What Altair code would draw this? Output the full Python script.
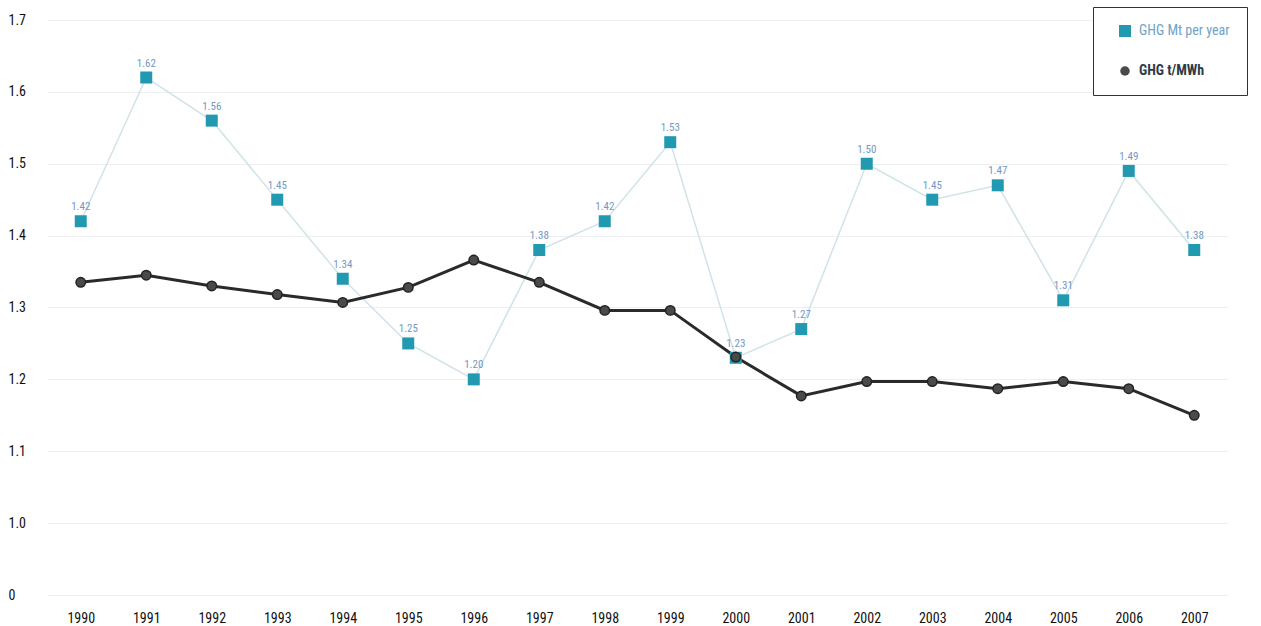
import altair as alt
import pandas as pd

# Annual greenhouse-gas figures, 1990-2007
years = [1990, 1991, 1992, 1993, 1994, 1995, 1996, 1997, 1998,
         1999, 2000, 2001, 2002, 2003, 2004, 2005, 2006, 2007]
mt_per_year = [1.42, 1.62, 1.56, 1.45, 1.34, 1.25, 1.20, 1.38, 1.42,
               1.53, 1.23, 1.27, 1.50, 1.45, 1.47, 1.31, 1.49, 1.38]
t_per_mwh = [1.335, 1.345, 1.330, 1.318, 1.307, 1.328, 1.366, 1.335, 1.296,
             1.296, 1.231, 1.177, 1.197, 1.197, 1.187, 1.197, 1.187, 1.150]

series_names = ["GHG Mt per year", "GHG t/MWh"]
y_ticks = [0.9, 1.0, 1.1, 1.2, 1.3, 1.4, 1.5, 1.6, 1.7]

FONT = "Roboto Condensed, DejaVu Sans Condensed, Liberation Sans Narrow, Liberation Sans, sans-serif"
TEAL = "#2199b0"
DARK = "#4a4a4a"

mt = pd.DataFrame({"year": years, "value": mt_per_year, "series": series_names[0]})
mt["label"] = [f"{v:.2f}" for v in mt_per_year]
mwh = pd.DataFrame({"year": years, "value": t_per_mwh, "series": series_names[1]})
both = pd.concat([mt, mwh], ignore_index=True)

x_enc = alt.X(
    "year:O",
    scale=alt.Scale(type="point", padding=0.5),
    axis=alt.Axis(title=None, labelAngle=0, ticks=False, domain=False, grid=False,
                  labelPadding=16, labelFontSize=14, labelFont=FONT, labelColor="#111"),
)
y_enc = alt.Y(
    "value:Q",
    scale=alt.Scale(domain=[0.9, 1.7], nice=False, zero=False),
    axis=alt.Axis(title=None, values=y_ticks, ticks=False, tickSize=0, domain=False,
                  grid=True, gridColor="#efefef", gridWidth=1,
                  labelAlign="left", labelPadding=40, labelFontSize=14,
                  labelFont=FONT, labelColor="#111",
                  labelExpr="datum.value < 0.95 ? '0' : format(datum.value, '.1f')"),
)

base = alt.Chart(both).encode(x=x_enc, y=y_enc)

mt_line = base.transform_filter(alt.datum.series == series_names[0]).mark_line(
    color="#cfe3e8", strokeWidth=1.5)
mwh_line = base.transform_filter(alt.datum.series == series_names[1]).mark_line(
    color="#2a2a2a", strokeWidth=3)

points = base.mark_point(filled=True, opacity=1, stroke="#222").encode(
    color=alt.Color(
        "series:N",
        scale=alt.Scale(domain=series_names, range=[TEAL, DARK]),
        legend=alt.Legend(
            title=None, orient="none", legendX=1045, legendY=-13,
            strokeColor="#333", fillColor="white",
            padding=17, rowPadding=26, symbolOffset=8, labelOffset=7,
            symbolStrokeWidth=0,
            labelFont=FONT, labelFontSize=14,
            labelColor={"expr": "datum.label == 'GHG t/MWh' ? '#2e3b45' : '#6fa3c9'"},
            labelFontWeight={"expr": "datum.label == 'GHG t/MWh' ? 'bold' : 'normal'"},
        ),
    ),
    shape=alt.Shape("series:N", scale=alt.Scale(domain=series_names, range=["square", "circle"])),
    size=alt.Size("series:N", scale=alt.Scale(domain=series_names, range=[144, 90])),
    strokeWidth=alt.condition(alt.datum.series == series_names[1], alt.value(1.5), alt.value(0)),
)

value_labels = alt.Chart(mt).mark_text(
    dy=-14, fontSize=11, font=FONT, color="#7398c4"
).encode(x=x_enc, y=y_enc, text="label:N")

chart = alt.layer(mt_line, mwh_line, points, value_labels).properties(
    width=1179, height=575,
    background="white",
    autosize=alt.AutoSizeParams(type="none"),
    padding={"left": 48, "top": 20, "right": 34, "bottom": 31},
).configure_view(stroke=None)

chart.save("out.html", embed_options={"renderer": "svg", "actions": False})
